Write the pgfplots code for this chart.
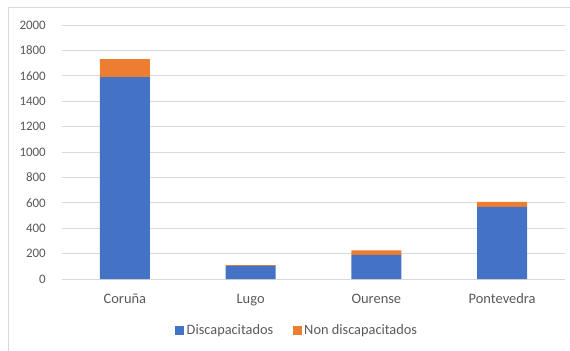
\documentclass[border=0pt]{standalone}
\usepackage{pgfplots}
\pgfplotsset{compat=1.18}
\usepackage{fontspec}
\setmainfont{Carlito}
\definecolor{barblue}{HTML}{4472C4}
\definecolor{barorange}{HTML}{ED7D31}
\definecolor{txtgray}{HTML}{595959}
\definecolor{gridgray}{HTML}{D9D9D9}

\begin{document}
\begin{tikzpicture}
\useasboundingbox (-62bp,-72bp) rectangle (508bp,279bp);
% chart frame
\draw[gridgray, line width=0.75bp] (-54bp,-72bp) -- (-54bp,272bp) -- (508bp,272bp);
\begin{axis}[
  at={(0,0)}, anchor=south west,
  scale only axis, width=503bp, height=254bp,
  ybar stacked, bar width=50bp,
  xmin=-0.5, xmax=3.5, ymin=0, ymax=2000,
  xtick={0,1,2,3}, xticklabels={Coruña,Lugo,Ourense,Pontevedra},
  ytick={0,200,...,2000},
  ymajorgrids, grid style={gridgray, line width=0.75bp},
  axis line style={draw=none}, major tick style={draw=none},
  tick label style={text=txtgray},
  yticklabel style={font=\fontsize{13}{15}\selectfont, inner sep=0pt, xshift=-16bp},
  xticklabel style={font=\fontsize{14.5}{17}\selectfont, inner sep=0pt, anchor=base, yshift=-24.3bp},
  /pgf/number format/assume math mode=true,
  /pgf/number format/1000 sep={},
  legend columns=2,
  legend cell align=left,
  legend style={draw=none, fill=none, at={(axis description cs:0.468,-0.203)}, anchor=center,
    font=\fontsize{14.4}{17}\selectfont, text=txtgray,
    nodes={inner xsep=2.5bp},
    /tikz/every even column/.append style={column sep=17bp}},
  legend image code/.code={\fill[#1] (0bp,-4bp) rectangle (9bp,5bp);},
]
\addplot[fill=barblue, draw=none] coordinates {(0,1590) (1,103) (2,190) (3,568)};
\addplot[fill=barorange, draw=none] coordinates {(0,142) (1,7) (2,35) (3,40)};
\legend{Discapacitados, Non discapacitados}
\end{axis}
\end{tikzpicture}
\end{document}
